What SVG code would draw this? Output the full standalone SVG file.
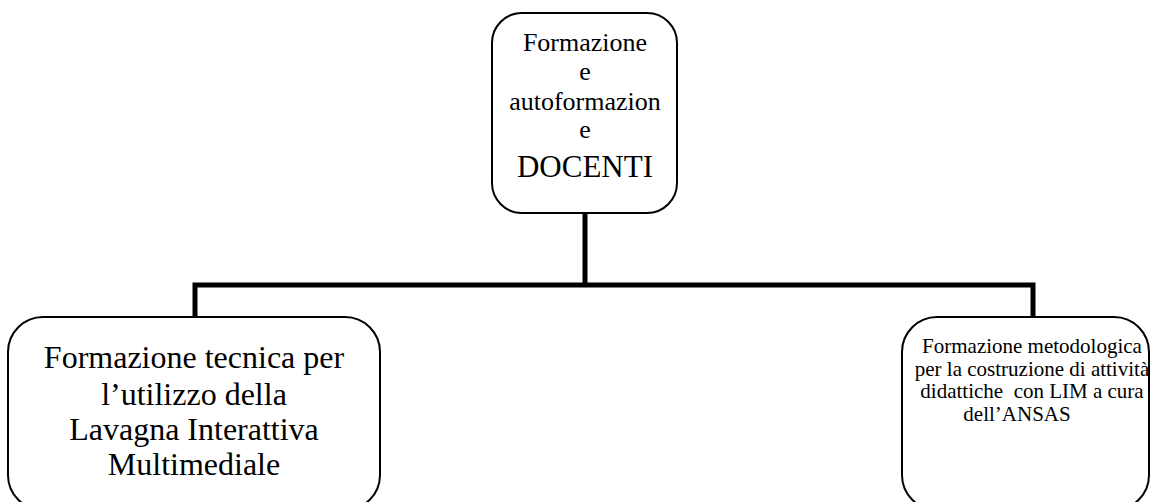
<svg xmlns="http://www.w3.org/2000/svg" width="1151" height="502" viewBox="0 0 1151 502">
<style>
.box{fill:#fff;stroke:#000;stroke-width:2}
.t{font-family:'Liberation Serif','DejaVu Serif',serif;fill:#000;text-anchor:middle}
.c{fill:none;stroke:#000;stroke-width:5;stroke-linejoin:miter}
</style>
<rect width="1151" height="502" fill="#fff"/>
<g id="connectors">
<path class="c" d="M585,213 V285"/>
<path class="c" d="M195,317 V285 H1033 V317"/>
</g>
<g id="top">
<rect class="box" x="492" y="13" width="185" height="200" rx="30"/>
<text class="t" font-family="Liberation Serif, serif" font-size="26"><tspan x="585" y="51">Formazione</tspan><tspan x="585" y="80">e</tspan><tspan x="585" y="110">autoformazion</tspan><tspan x="585" y="138">e</tspan></text>
<text class="t" font-family="Liberation Serif, serif" font-size="31" x="585" y="177">DOCENTI</text>
</g>
<g id="left">
<rect class="box" x="8" y="317" width="372" height="193" rx="35"/>
<text class="t" font-family="Liberation Serif, serif" font-size="32"><tspan x="194" y="368">Formazione tecnica per</tspan><tspan x="194" y="405">l’utilizzo della</tspan><tspan x="194" y="440">Lavagna Interattiva</tspan><tspan x="194" y="475">Multimediale</tspan></text>
</g>
<g id="right">
<rect class="box" x="902" y="317" width="247" height="193" rx="35"/>
<text class="t" font-family="Liberation Serif, serif" font-size="21"><tspan x="1032" y="353">Formazione metodologica</tspan><tspan x="1032" y="376">per la costruzione di attività</tspan><tspan x="1032" y="398" xml:space="preserve">didattiche  con LIM a cura</tspan><tspan x="1017" y="421">dell’ANSAS</tspan></text>
</g>
</svg>
